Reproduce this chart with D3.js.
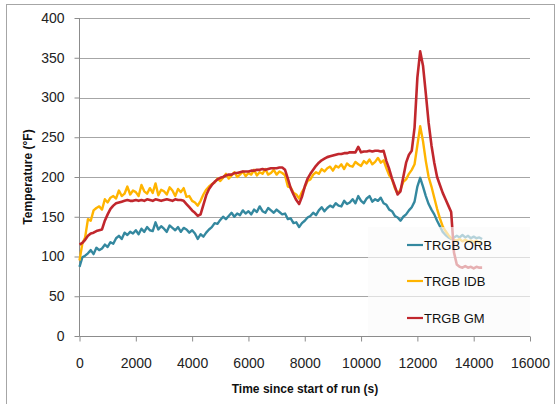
<!DOCTYPE html>
<html>
<head>
<meta charset="utf-8">
<script src="https://cdn.jsdelivr.net/npm/d3@7"></script>
<style>
  body { margin: 0; background: #fff; }
  svg { display: block; font-family: "Liberation Sans", Arial, sans-serif; }
  .axis path, .axis line { stroke: #8c8c8c; }
  .axis text { font-size: 14px; fill: #222; }
  .grid line { stroke: #a6a6a6; stroke-width: 1; }
  .series { fill: none; stroke-linejoin: round; }
  .title { font-size: 12px; font-weight: bold; fill: #111; }
  .legend text { font-size: 13px; fill: #111; }
</style>
</head>
<body>
<svg width="555" height="404"></svg>
<script>
// sample interval of the logged data, seconds
var sampleStep = 100;

var xTicks = [0, 2000, 4000, 6000, 8000, 10000, 12000, 14000, 16000];
var yTicks = [0, 50, 100, 150, 200, 250, 300, 350, 400];

var seriesNames = ["TRGB ORB", "TRGB IDB", "TRGB GM"];
var seriesColors = ["#34889f", "#ffb400", "#c1272d"];

var orb = [
  87, 99, 101, 104, 108, 103, 111, 108, 110, 115,
  112, 118, 116, 123, 126, 122, 130, 127, 131, 129,
  133, 128, 135, 131, 137, 133, 132, 143, 134, 138,
  135, 131, 139, 136, 133, 137, 131, 136, 134, 130,
  133, 129, 122, 128, 125, 130, 134, 137, 142, 141,
  146, 150, 147, 151, 155, 150, 154, 152, 158, 154,
  157, 153, 159, 156, 163, 157, 155, 161, 158, 155,
  159, 156, 153, 154, 147, 148, 142, 143, 137, 142,
  145, 149, 151, 155, 152, 158, 162, 157, 161, 164,
  162, 167, 164, 163, 170, 166, 168, 172, 167, 176,
  170, 167, 173, 176, 169, 172, 170, 174, 167, 165,
  159, 157, 151, 149, 145, 150, 153, 158, 162, 169,
  188, 199, 188, 176, 166, 159, 153, 145, 138, 131,
  127, 124, 122, 124, 126, 124, 127, 124, 126, 123,
  125, 123, 124, 122
];

var idb = [
  95, 116, 124, 147, 145, 158, 161, 163, 159, 172,
  168, 174, 176, 173, 183, 176, 179, 188, 178, 183,
  181, 176, 190, 182, 179, 186, 180, 192, 177, 184,
  182, 178, 187, 183, 176, 185, 181, 186, 175, 176,
  170, 168, 164, 170, 178, 184, 188, 191, 193, 198,
  195, 199, 204, 198, 202, 206, 200, 203, 207, 201,
  205, 203, 209, 202, 206, 204, 210, 203, 205, 209,
  203, 207, 205, 202, 188, 187, 180, 178, 173, 181,
  187, 195, 197, 203, 206, 204, 210, 207, 211, 213,
  208, 214, 212, 216, 210, 217, 214, 213, 219, 216,
  214, 220, 217, 222, 216, 219, 224, 218, 221, 211,
  202, 197, 186, 179, 184, 194, 197, 204, 209, 216,
  240, 264, 245, 220, 200, 188, 174, 160, 148, 138,
  132, 127, 123, 121, 120, 122, 119, 121, 119, 120,
  118, 120, 117, 118
];

var gm = [
  115, 117, 121, 126, 129, 130, 132, 133, 134, 145,
  153, 160, 164, 167, 168, 169, 170, 171, 170, 170,
  171, 170, 171, 170, 172, 171, 170, 172, 171, 170,
  171, 172, 171, 170, 172, 171, 171, 170, 166, 162,
  158, 155, 151, 153, 165, 177, 185, 190, 194, 197,
  199, 200, 202, 203, 203, 205, 205, 206, 207, 207,
  207, 208, 208, 209, 209, 210, 209, 210, 211, 211,
  211, 212, 212, 209, 198, 186, 178, 171, 166, 175,
  188, 198, 204, 209, 214, 218, 221, 223, 225, 226,
  227, 228, 229, 229, 230, 230, 231, 231, 231, 238,
  231, 232, 232, 233, 232, 233, 233, 232, 233, 220,
  210, 198, 188, 178, 182, 200, 218, 228, 233, 262,
  325, 358, 340, 305, 268, 240, 218, 200, 190, 180,
  172, 164, 156, 105, 90, 87, 86, 88, 86, 87,
  85, 87, 86, 86
];

var allSeries = [orb, idb, gm];

var svg = d3.select("svg");

var x = d3.scaleLinear().domain([0, 16000]).range([79.5, 530]);
var y = d3.scaleLinear().domain([0, 400]).range([336, 18]);

// chart area border
svg.append("rect")
    .attr("x", 6.5).attr("y", 4.5)
    .attr("width", 548).attr("height", 420)
    .attr("fill", "none")
    .attr("stroke", "#a6a6a6");

// gridlines
svg.append("g")
    .attr("class", "grid")
    .selectAll("line")
    .data(yTicks.filter(function(d) { return d > 0; }))
    .enter().append("line")
    .attr("x1", x(0)).attr("x2", x(16000))
    .attr("y1", function(d) { return Math.round(y(d)) + 0.5; })
    .attr("y2", function(d) { return Math.round(y(d)) + 0.5; });

var xAxis = d3.axisBottom(x)
    .tickValues(xTicks)
    .tickSize(5)
    .tickPadding(17)
    .tickFormat(d3.format("d"));

var yAxis = d3.axisLeft(y)
    .tickValues(yTicks)
    .tickSize(5)
    .tickPadding(10)
    .tickFormat(d3.format("d"));

svg.append("g")
    .attr("class", "axis axis--x")
    .attr("transform", "translate(0,336.5)")
    .call(xAxis)
    .call(function(g) { g.select(".domain").attr("d", "M79.5,0H530"); });

svg.append("g")
    .attr("class", "axis axis--y")
    .attr("transform", "translate(79.5,0)")
    .call(yAxis)
    .call(function(g) { g.select(".domain").attr("d", "M0,18V336.5"); });

var line = d3.line()
    .x(function(d, i) { return x(i * sampleStep); })
    .y(function(d) { return y(d); });

svg.append("g")
    .selectAll("path")
    .data(allSeries)
    .enter().append("path")
    .attr("class", "series")
    .attr("stroke", function(d, i) { return seriesColors[i]; })
    .attr("stroke-width", function(d, i) { return i == 2 ? 2.6 : 2.4; })
    .attr("d", line);

// legend box sits over the plot, partly see-through
var legend = svg.append("g").attr("class", "legend");

legend.append("rect")
    .attr("x", 368).attr("y", 227)
    .attr("width", 162).attr("height", 109)
    .attr("fill", "#fafafa")
    .attr("fill-opacity", 0.65);

var rowY = [245, 281, 318];

var rows = legend.selectAll("g.row")
    .data(seriesNames)
    .enter().append("g")
    .attr("class", "row")
    .attr("transform", function(d, i) { return "translate(0," + rowY[i] + ")"; });

rows.append("line")
    .attr("x1", 407).attr("x2", 423)
    .attr("stroke", function(d, i) { return seriesColors[i]; })
    .attr("stroke-width", 2.2);

rows.append("text")
    .attr("x", 424)
    .attr("dy", "0.36em")
    .text(function(d) { return d; });

svg.append("text")
    .attr("class", "title")
    .attr("x", 305).attr("y", 393)
    .attr("text-anchor", "middle")
    .text("Time since start of run (s)");

svg.append("text")
    .attr("class", "title")
    .attr("transform", "translate(32,177) rotate(-90)")
    .attr("text-anchor", "middle")
    .text("Temperature (°F)");
</script>
</body>
</html>
